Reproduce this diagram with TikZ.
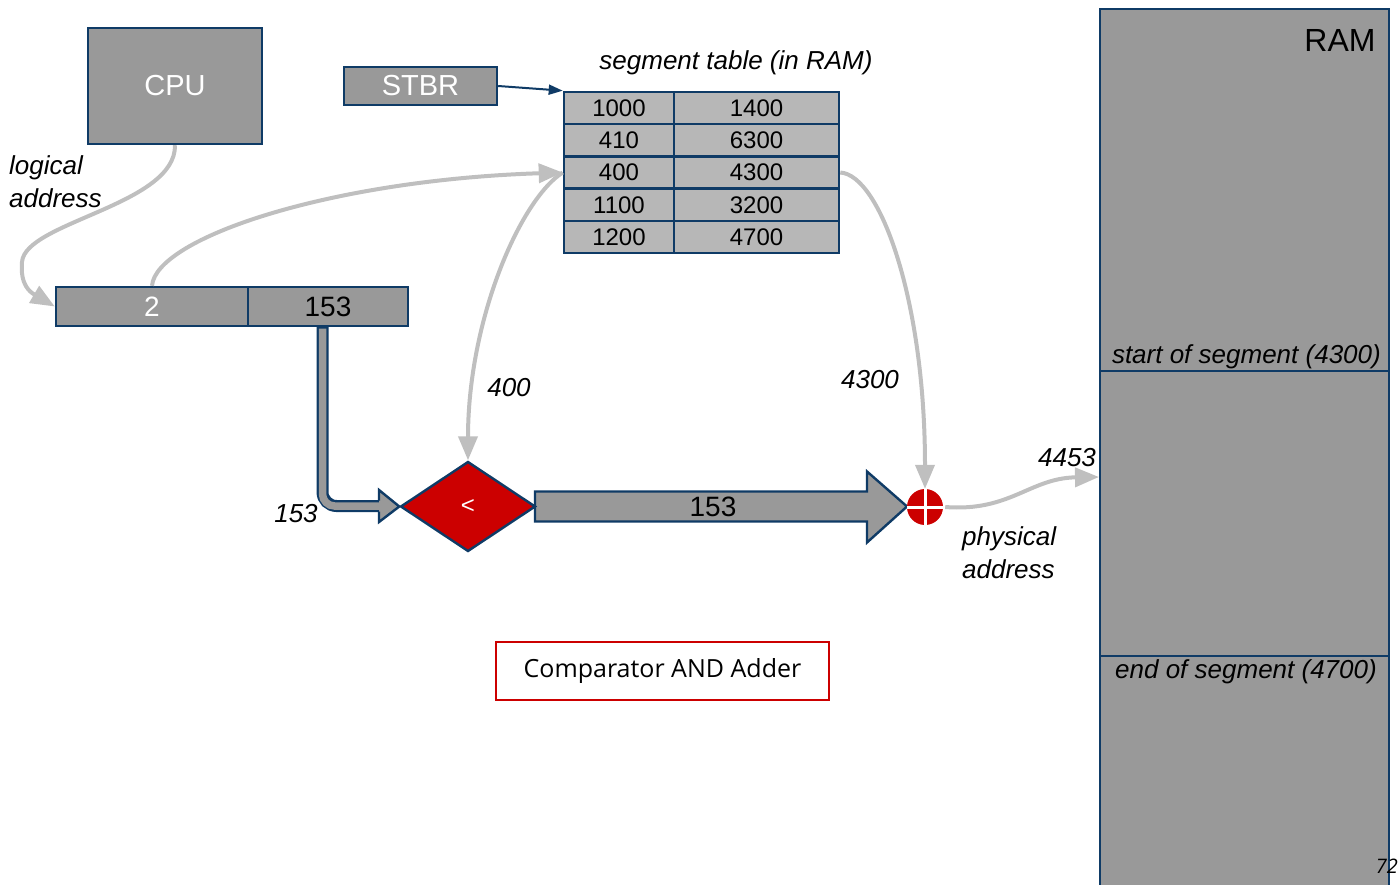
\documentclass[tikz,border=0pt]{standalone}
\usepackage{fontspec}
\setmainfont{Liberation Sans}
\newfontfamily\opensans{Open Sans}
\usetikzlibrary{arrows.meta,shapes.geometric}
\definecolor{bd}{HTML}{0F3B66}
\definecolor{fillg}{HTML}{999999}
\definecolor{tabg}{HTML}{B7B7B7}
\definecolor{redc}{HTML}{CC0000}
\definecolor{lightc}{HTML}{BFBFBF}
\begin{document}
\begin{tikzpicture}[x=1pt,y=-1pt,
  box/.style={draw=bd,line width=2.4pt,fill=fillg,inner sep=0pt},
  cell/.style={draw=bd,line width=2.6pt,fill=tabg,inner sep=0pt,minimum height=32pt,font=\fontsize{24}{24}\selectfont},
  lbl/.style={font=\fontsize{26}{30}\selectfont\itshape,inner sep=0pt},
  gline/.style={draw=lightc,line width=4pt,-{Triangle[length=24pt,width=19pt]}},
]
\useasboundingbox (0,0) rectangle (1400,885);
\clip (0,0) rectangle (1400,885);

% RAM
\node[box,minimum width=289pt,minimum height=890pt,anchor=north west] (ram) at (1099,8) {};
\coordinate (ramin) at (1099,477);
\draw[bd,line width=2.4pt] (ram.west |- 0,371) -- (ram.east |- 0,371);
\draw[bd,line width=2.4pt] (ram.west |- 0,656) -- (ram.east |- 0,656);
\node[font=\fontsize{32}{32}\selectfont,inner sep=0pt] (ramlbl) at (1340,40) {RAM};
\node[lbl,anchor=east] (sos) at (1381,357) {start of segment (4300)};
\node[lbl,anchor=east] (eos) at (1377,672) {end of segment (4700)};

% CPU and STBR
\node[box,minimum width=174pt,minimum height=116pt,text=white,font=\fontsize{29}{29}\selectfont] (cpu) at (175,86) {CPU};
\node[box,minimum width=153pt,minimum height=38pt,text=white,font=\fontsize{29}{29}\selectfont] (stbr) at (420.5,86) {STBR};

% segment table
\node[lbl] (sttitle) at (736,63) {segment table (in RAM)};
\node[cell,minimum width=110pt] (t11) at (619,108) {1000};
\node[cell,minimum width=165pt] (t12) at (756.5,108) {1400};
\node[cell,minimum width=110pt] (t21) at (619,140) {410};
\node[cell,minimum width=165pt] (t22) at (756.5,140) {6300};
\node[cell,minimum width=110pt] (t31) at (619,172.5) {400};
\node[cell,minimum width=165pt] (t32) at (756.5,172.5) {4300};
\node[cell,minimum width=110pt] (t41) at (619,205) {1100};
\node[cell,minimum width=165pt] (t42) at (756.5,205) {3200};
\node[cell,minimum width=110pt] (t51) at (619,237) {1200};
\node[cell,minimum width=165pt] (t52) at (756.5,237) {4700};

\draw[bd,line width=2pt,-{Triangle[length=14pt,width=10pt]}] (stbr.east) -- (t11.north west);

% logical address
\node[box,minimum width=192pt,minimum height=39pt,text=white,font=\fontsize{28}{28}\selectfont] (la) at (152,306.5) {2};
\node[box,minimum width=160pt,minimum height=39pt,font=\fontsize{28}{28}\selectfont] (lb) at (328,306.5) {153};
\node[lbl,anchor=west] (log1) at (9,168) {logical};
\node[lbl,anchor=west] (log2) at (9,198) {address};

% big arrow (drawn before diamond)
\filldraw[fill=fillg,draw=bd,line width=2.4pt,line join=miter]
  (535,491.5) -- (867,491.5) -- (867,471.5) -- (907,506.5) -- (867,542.5) -- (867,521.5) -- (535,521.5) -- cycle;
\node[font=\fontsize{28}{28}\selectfont,inner sep=0pt] (bignum) at (713,507) {153};

% comparator
\node[diamond,draw=bd,line width=2.4pt,fill=redc,minimum width=135pt,minimum height=90pt,aspect=1.5,inner sep=0pt,text=white,font=\fontsize{24}{24}\selectfont] (dia) at (468,506.5) {<};

% bent thick arrow
\coordinate (bs) at ([xshift=-5.5pt]lb.south);
\coordinate (bh) at (379,506);
\draw[bd,line width=12pt,rounded corners=14pt] (bs) |- (bh);
\draw[fillg,line width=7.5pt,rounded corners=12pt] ([yshift=-1.5pt]bs) |- ([xshift=1pt]bh);
\filldraw[fill=fillg,draw=bd,line width=2.4pt,line join=miter]
  (379,500.5) -- (379,490) -- (dia.west) -- (379,522) -- (379,511.5);

% adder
\node[circle,fill=redc,minimum size=36pt,inner sep=0pt] (add) at (925,507) {};
\draw[white,line width=3pt] (add.north) -- (add.south) (add.west) -- (add.east);

% grey connectors
\draw[gline] (cpu.south) .. controls (176,205) and (25,222) .. (22,262) .. controls (20,285) and (30,292) .. (la.west);
\draw[gline] (la.north) .. controls (156,238) and (330,180) .. (t31.west);
\draw[gline] (t31.west) .. controls (520,200) and (468,320) .. (dia.north);
\draw[gline] (t32.east) .. controls (880,175) and (925,300) .. (add.north);
\draw[gline] ([xshift=2pt]add.east) .. controls (1010,512) and (1030,478) .. (ramin);

% labels
\node[lbl] (l400) at (509,388) {400};
\node[lbl] (l4300) at (870,380) {4300};
\node[lbl] (l153) at (296,514) {153};
\node[lbl] (l4453) at (1067,458) {4453};
\node[lbl,anchor=west] (phy1) at (962,539) {physical};
\node[lbl,anchor=west] (phy2) at (962,569) {address};

\node[draw=redc,line width=2pt,fill=white,minimum width=333pt,minimum height=58pt,inner sep=0pt,font=\opensans\fontsize{25}{25}\selectfont] (cmp) at (662.5,671) {Comparator AND Adder};

\node[inner sep=0pt,anchor=east,font=\opensans\itshape\fontsize{20}{20}\selectfont] (pg) at (1398,866) {72};
\end{tikzpicture}
\end{document}
